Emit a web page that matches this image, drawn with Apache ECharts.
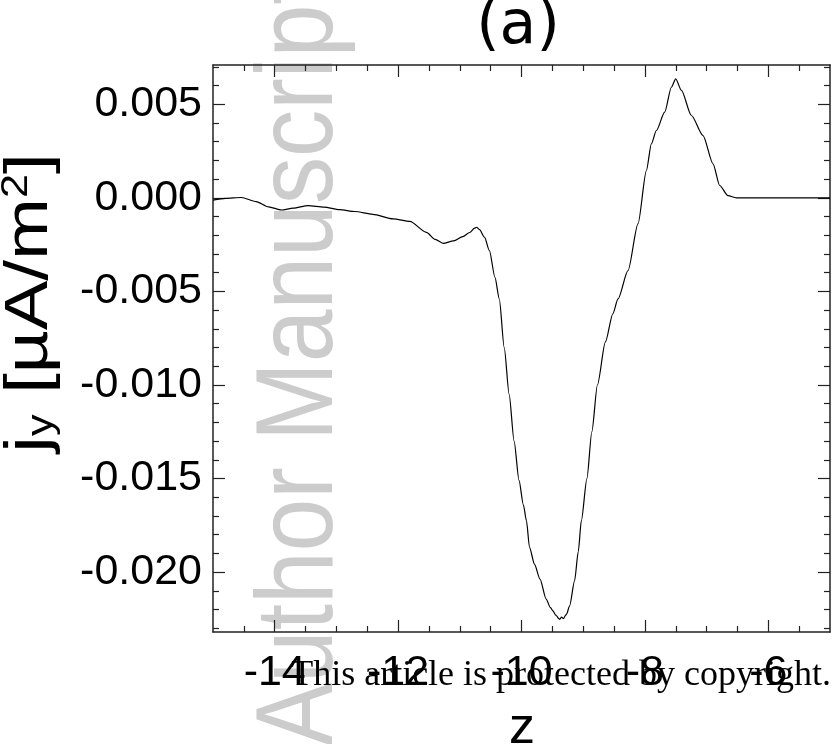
<!DOCTYPE html>
<html>
<head>
<meta charset="utf-8">
<script src="https://cdn.jsdelivr.net/npm/echarts@6/dist/echarts.min.js"></script>
<style>html,body{margin:0;padding:0;background:#fff;}#c{width:832px;height:744px;}</style>
</head>
<body>
<div id="c"></div>
<script>
// ---- data ----
const zVals = [-15.0, -14.8, -14.54, -14.3, -14.1, -13.89, -13.7, -13.46, -13.2, -12.95, -12.7, -12.41, -12.08, -11.81, -11.54, -11.4, -11.27, -11.1, -10.95, -10.84, -10.76, -10.73, -10.68, -10.6, -10.52, -10.43, -10.36, -10.28, -10.20, -10.12, -10.04, -9.97, -9.92, -9.87, -9.79, -9.70, -9.60, -9.53, -9.49, -9.45, -9.43, -9.40, -9.38, -9.35, -9.32, -9.29, -9.27, -9.22, -9.14, -9.08, -9.03, -8.94, -8.86, -8.77, -8.64, -8.52, -8.436, -8.274, -8.112, -7.976, -7.895, -7.814, -7.679, -7.571, -7.501, -7.408, -7.246, -7.058, -6.896, -6.788, -6.653, -6.517, -6.0, -5.5, -5.0];
const jVals = [-0.00012, -0.00003, 0.00002, -0.0002, -0.00048, -0.00065, -0.00055, -0.00042, -0.0005, -0.00063, -0.00073, -0.00088, -0.00112, -0.00126, -0.00184, -0.00222, -0.00243, -0.0023, -0.00207, -0.00185, -0.00162, -0.00157, -0.0017, -0.0021, -0.00282, -0.00425, -0.0054, -0.0080, -0.0105, -0.0130, -0.0151, -0.0164, -0.01725, -0.01868, -0.01957, -0.02037, -0.02144, -0.0219, -0.02207, -0.02228, -0.02234, -0.02247, -0.02252, -0.0224, -0.02249, -0.02232, -0.02225, -0.0218, -0.02047, -0.0189, -0.01725, -0.0150, -0.0125, -0.0100, -0.0077, -0.0062, -0.0054, -0.00389, -0.00139, 0.00146, 0.00289, 0.0036, 0.00458, 0.00591, 0.00636, 0.00574, 0.0044, 0.00333, 0.00182, 0.00066, 0.00012, 0.0, 0.0, 0.0, 0.0];
const xMajorTicks = [-14, -12, -10, -8, -6];
const xMinorTicks = [-14.5, -13.5, -13, -12.5, -11.5, -11, -10.5, -9.5, -9, -8.5, -7.5, -7, -6.5, -5.5];
const yMajorTicks = [0.005, 0.0, -0.005, -0.010, -0.015, -0.020];
const yMinorTicks = [0.007, 0.006, 0.004, 0.003, 0.002, 0.001, -0.001, -0.002, -0.003, -0.004, -0.006, -0.007, -0.008, -0.009, -0.011, -0.012, -0.013, -0.014, -0.016, -0.017, -0.018, -0.019, -0.021, -0.022, -0.023];
const xRange = [-15, -5];
const yRange = [-0.0232, 0.0071];
const titleText = '(a)';
const xName = 'z';
const copyrightText = 'This article is protected by copyright.';
const watermarkText = 'Author Manuscript';

// ---- chart ----
const chart = echarts.init(document.getElementById('c'), null, {renderer: 'canvas'});
const lineCol = '#222';
const sans = 'Liberation Sans, Arial, sans-serif';
const labelFont = {fontFamily: sans, fontSize: 43, color: '#000'};

function xAx(pos, ticks, len, showLabel, showLine) {
  return {
    type: 'value', position: pos, min: xRange[0], max: xRange[1],
    axisLine: {show: showLine, onZero: false, lineStyle: {color: lineCol, width: 1.5}},
    axisTick: {show: true, inside: true, length: len, customValues: ticks, lineStyle: {color: lineCol, width: 1.2}},
    axisLabel: showLabel ? Object.assign({show: true, customValues: ticks, margin: 20, formatter: v => String(v)}, labelFont) : {show: false},
    splitLine: {show: false}
  };
}
function yAx(pos, ticks, len, showLabel, showLine) {
  return {
    type: 'value', position: pos, min: yRange[0], max: yRange[1],
    axisLine: {show: showLine, onZero: false, lineStyle: {color: lineCol, width: 1.5}},
    axisTick: {show: true, inside: true, length: len, customValues: ticks, lineStyle: {color: lineCol, width: 1.2}},
    axisLabel: showLabel ? Object.assign({show: true, customValues: ticks, margin: 11, formatter: v => v.toFixed(3)}, labelFont) : {show: false},
    splitLine: {show: false}
  };
}

const option = {
  backgroundColor: '#fff',
  animation: false,
  grid: {left: 213, top: 65, width: 617, height: 567, containLabel: false},
  xAxis: [
    xAx('bottom', xMajorTicks, 12, true, true),
    xAx('bottom', xMinorTicks, 6, false, false),
    xAx('top', xMajorTicks, 12, false, true),
    xAx('top', xMinorTicks, 6, false, false)
  ],
  yAxis: [
    yAx('left', yMajorTicks, 12, true, true),
    yAx('left', yMinorTicks, 6, false, false),
    yAx('right', yMajorTicks, 12, false, true),
    yAx('right', yMinorTicks, 6, false, false)
  ],
  series: [{
    type: 'line', xAxisIndex: 0, yAxisIndex: 0,
    data: zVals.map((z, i) => [z, jVals[i]]),
    showSymbol: false, smooth: 0.25, smoothMonotone: 'x',
    lineStyle: {color: '#000', width: 1.2},
    z: 5
  }],
  graphic: [
    {
      type: 'text', z: -10, silent: true,
      x: 302, y: 746, rotation: Math.PI / 2, scaleX: 0.86, scaleY: 1,
      style: {text: watermarkText, fontFamily: sans, fontSize: 110, fill: '#cccccc', align: 'left', verticalAlign: 'middle'}
    },
    {
      type: 'text', x: 518, y: 27,
      style: {text: titleText, fontFamily: 'DejaVu Sans, sans-serif', fontSize: 60, fill: '#000', align: 'center', verticalAlign: 'middle'}
    },
    {
      type: 'text', x: 522, y: 729,
      style: {text: xName, fontFamily: sans, fontSize: 52, fill: '#000', align: 'center', verticalAlign: 'middle'}
    },
    {
      type: 'text', x: 30, y: 303, rotation: Math.PI / 2, scaleX: 1.2, scaleY: 1,
      style: {
        text: '{a|j}{b|y}{a| [µA/m}{c|2}{a|]}',
        align: 'center', verticalAlign: 'middle',
        rich: {
          a: {fontFamily: sans, fontSize: 62, fill: '#000', verticalAlign: 'middle'},
          b: {fontFamily: sans, fontSize: 36, fill: '#000', padding: [24, 0, 0, 0]},
          c: {fontFamily: sans, fontSize: 36, fill: '#000', padding: [0, 0, 26, 0]}
        }
      }
    },
    {
      type: 'text', x: 831, y: 676, z: 20,
      style: {text: copyrightText, fontFamily: 'Liberation Serif, Times New Roman, serif', fontSize: 36, fill: '#000', align: 'right', verticalAlign: 'middle'}
    }
  ]
};
chart.setOption(option);
</script>
</body>
</html>
